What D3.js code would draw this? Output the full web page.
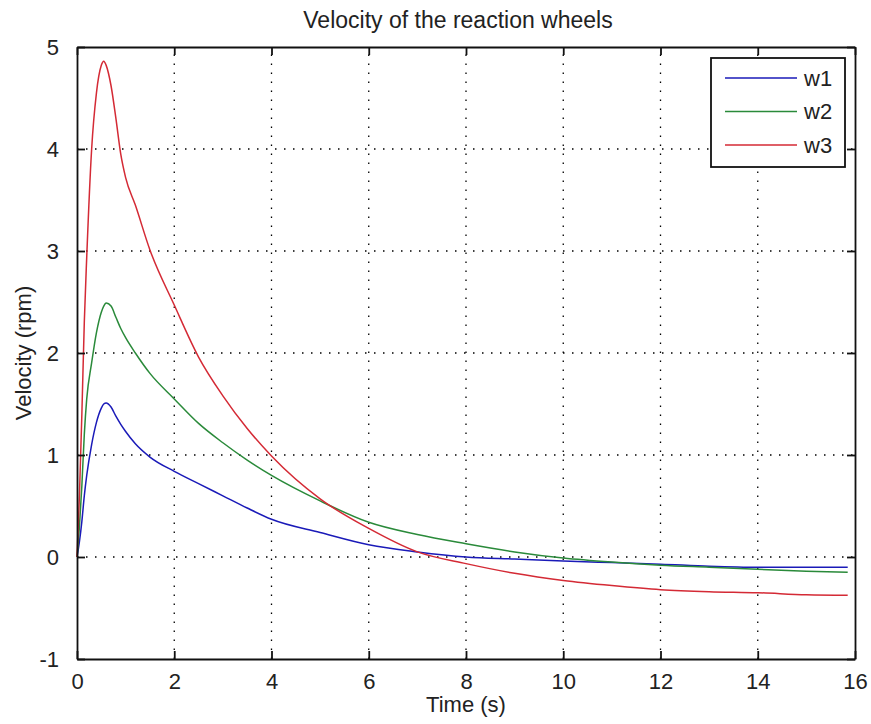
<!DOCTYPE html>
<html>
<head>
<meta charset="utf-8">
<script src="https://cdn.jsdelivr.net/npm/d3@7"></script>
<style>
  html, body { margin: 0; padding: 0; background: #fff; }
  svg { display: block; }
  text { font-family: "Liberation Sans", Arial, sans-serif; fill: #222; }
</style>
</head>
<body>
<svg id="chart" width="871" height="724"></svg>
<script>
// ---- data ----
const time = [0, 0.05, 0.1, 0.15, 0.2, 0.3, 0.4, 0.5, 0.55, 0.6, 0.7, 0.8, 0.9, 1.0, 1.2, 1.5, 2, 2.5, 3, 3.5, 4, 5, 6, 7, 8, 9, 10, 11, 12, 13, 14, 15, 15.85];
const w1 = [0, 0.15, 0.35, 0.6, 0.8, 1.1, 1.32, 1.46, 1.5, 1.51, 1.47, 1.38, 1.3, 1.23, 1.11, 0.98, 0.84, 0.72, 0.6, 0.48, 0.37, 0.24, 0.12, 0.05, 0.0, -0.02, -0.04, -0.055, -0.07, -0.09, -0.1, -0.1, -0.1];
const w2 = [0, 0.3, 0.7, 1.2, 1.55, 1.9, 2.2, 2.4, 2.46, 2.49, 2.46, 2.35, 2.24, 2.15, 2.0, 1.8, 1.55, 1.31, 1.12, 0.95, 0.8, 0.55, 0.34, 0.22, 0.13, 0.05, -0.01, -0.05, -0.08, -0.1, -0.12, -0.14, -0.15];
const w3 = [0, 0.6, 1.4, 2.3, 2.94, 3.99, 4.55, 4.82, 4.86, 4.82, 4.62, 4.3, 3.95, 3.72, 3.45, 3.01, 2.47, 1.96, 1.58, 1.26, 0.99, 0.57, 0.28, 0.05, -0.065, -0.16, -0.23, -0.28, -0.32, -0.34, -0.35, -0.37, -0.375];
const seriesNames = ["w1", "w2", "w3"];
const seriesColors = ["#1a1ab8", "#2a8a3a", "#d42a35"];
const xTicks = [0, 2, 4, 6, 8, 10, 12, 14, 16];
const yTicks = [-1, 0, 1, 2, 3, 4, 5];
const titleText = "Velocity of the reaction wheels";
const xLabel = "Time (s)";
const yLabel = "Velocity (rpm)";

// ---- layout ----
const L = 77, R = 855, T = 47, B = 659;
const FS = 22;
const svg = d3.select("#chart");
const x = d3.scaleLinear().domain([0, 16]).range([L, R]);
const y = d3.scaleLinear().domain([-1, 5]).range([B, T]);

// grid
const grid = svg.append("g").attr("stroke", "#000").attr("stroke-width", 1.3)
  .attr("stroke-dasharray", "1.5,7.5");
grid.selectAll("line.v").data(xTicks.slice(1, -1)).join("line")
  .attr("x1", d => x(d)).attr("x2", d => x(d)).attr("y1", B).attr("y2", T);
grid.selectAll("line.h").data(yTicks.slice(1, -1)).join("line")
  .attr("y1", d => y(d)).attr("y2", d => y(d)).attr("x1", L).attr("x2", R);

// data lines
const series = [w1, w2, w3];
const line = d3.line().x((d, i) => x(time[i])).y(d => y(d)).curve(d3.curveMonotoneX);
svg.append("g").selectAll("path").data(series).join("path")
  .attr("d", d => line(d)).attr("fill", "none")
  .attr("stroke", (d, i) => seriesColors[i]).attr("stroke-width", 1.5);

// axes (inward ticks on all four sides)
const tl = 8;
const fmt = d => String(d);
const axB = svg.append("g").attr("transform", `translate(0,${B})`)
  .call(d3.axisBottom(x).tickValues(xTicks).tickSizeInner(-tl).tickSizeOuter(0).tickPadding(14).tickFormat(fmt));
const axT = svg.append("g").attr("transform", `translate(0,${T})`)
  .call(d3.axisTop(x).tickValues(xTicks).tickSizeInner(-tl).tickSizeOuter(0).tickFormat(""));
const axL = svg.append("g").attr("transform", `translate(${L},0)`)
  .call(d3.axisLeft(y).tickValues(yTicks).tickSizeInner(-tl).tickSizeOuter(0).tickPadding(18).tickFormat(fmt));
const axR = svg.append("g").attr("transform", `translate(${R},0)`)
  .call(d3.axisRight(y).tickValues(yTicks).tickSizeInner(-tl).tickSizeOuter(0).tickFormat(""));
[axB, axT, axL, axR].forEach(a => {
  a.selectAll("path.domain").attr("stroke", "#111").attr("stroke-width", 1.8);
  a.selectAll(".tick line").attr("stroke", "#111").attr("stroke-width", 1.8);
  a.selectAll(".tick text").attr("font-size", FS).attr("font-family", "Liberation Sans, Arial, sans-serif").attr("fill", "#222");
});
axL.selectAll(".tick text").attr("dy", "0.35em");

// title and labels
svg.append("text").attr("x", (L + R) / 2 - 8).attr("y", 28).attr("text-anchor", "middle")
  .attr("font-size", 23).text(titleText);
svg.append("text").attr("x", (L + R) / 2).attr("y", 712).attr("text-anchor", "middle")
  .attr("font-size", FS).text(xLabel);
svg.append("text").attr("transform", `translate(31,${(T + B) / 2}) rotate(-90)`)
  .attr("text-anchor", "middle").attr("font-size", FS).text(yLabel);

// legend
const lg = svg.append("g");
lg.append("rect").attr("x", 711).attr("y", 58).attr("width", 134).attr("height", 109)
  .attr("fill", "#fff").attr("stroke", "#111").attr("stroke-width", 1.8);
seriesNames.forEach((n, i) => {
  const yy = 78 + i * 33.5;
  lg.append("line").attr("x1", 725).attr("x2", 797).attr("y1", yy).attr("y2", yy)
    .attr("stroke", seriesColors[i]).attr("stroke-width", 1.5);
  lg.append("text").attr("x", 804).attr("y", yy).attr("dy", "0.35em")
    .attr("font-size", FS).text(n);
});
</script>
</body>
</html>
